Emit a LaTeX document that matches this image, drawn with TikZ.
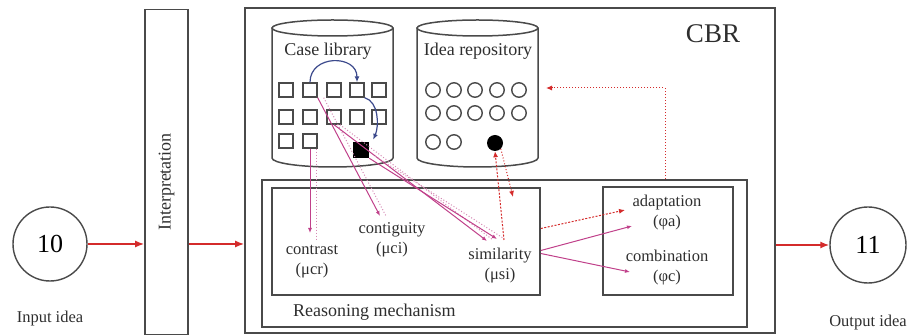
\documentclass[tikz,border=0pt]{standalone}
\usepackage{fontspec}
\setmainfont{Liberation Serif}
\usetikzlibrary{arrows.meta,calc}

\definecolor{frame}{HTML}{4A4A4A}
\definecolor{flow}{HTML}{D42B2B}
\definecolor{link}{HTML}{C0408A}
\definecolor{linklt}{HTML}{D58AB4}
\definecolor{navy}{HTML}{3C4A8C}
\definecolor{ink}{HTML}{2E2E2E}

\begin{document}
\begin{tikzpicture}[x=1pt,y=-1pt,
  box/.style={draw=frame, line width=1.7pt, inner sep=0pt},
  cyl/.style={draw=frame, line width=1.5pt},
  sq/.style={draw=frame, line width=1.4pt, minimum size=14pt, inner sep=0pt},
  sqfull/.style={fill=black, minimum size=16pt, inner sep=0pt},
  rnd/.style={circle, draw=frame, line width=1.4pt, minimum size=14.5pt, inner sep=0pt},
  rndfull/.style={circle, fill=black, minimum size=16pt, inner sep=0pt},
  ball/.style={circle, draw=frame, line width=1.4pt, inner sep=0pt},
  txt/.style={text=ink, font=\fontsize{18}{21}\selectfont, inner sep=0pt},
  lbl/.style={text=ink, font=\fontsize{16.5}{20}\selectfont, align=center, inner sep=1pt},
  flowarrow/.style={draw=flow, line width=1.5pt, -{Latex[length=9pt,width=7pt]}},
  lnk/.style={draw=link, line width=1pt, -{Latex[length=5pt,width=4pt]}},
  lnkdot/.style={draw=linklt, line width=1pt, dotted},
  redlnk/.style={draw=flow, line width=1pt, dash pattern=on 2pt off 1.5pt, -{Latex[length=6pt,width=5pt]}},
  blu/.style={draw=navy, line width=1.2pt, -{Latex[length=6pt,width=5pt]}}
]
\useasboundingbox (0,0) rectangle (916,336);

% ---------- input, interpretation, output ----------
\node[ball, minimum size=74pt] (in) at (50,244) {\fontsize{26}{30}\selectfont 10};
\node[txt, font=\fontsize{16.5}{20}\selectfont] (inlbl) at (50,319) {Input idea};

\node[box, minimum width=43pt, minimum height=325pt] (interp) at (166.5,172) {};
\node[txt, rotate=90] (interplbl) at (166.5,182) {Interpretation};

\node[ball, minimum size=76pt] (out) at (868,245) {\fontsize{26}{30}\selectfont 11};
\node[txt, font=\fontsize{16.5}{20}\selectfont] (outlbl) at (868,323) {Output idea};

% ---------- CBR frame ----------
\node[box, minimum width=530pt, minimum height=325pt] (cbr) at (510,170.5) {};
\node[txt, font=\fontsize{27}{31}\selectfont] (cbrlbl) at (713,34) {CBR};

\draw[flowarrow] (in.east) -- (interp.west |- in.east);
\draw[flowarrow] (interp.east |- in.east) -- (cbr.west |- in.east);
\draw[flowarrow] (cbr.east |- out.west) -- (out.west);

% ---------- case library cylinder ----------
\draw[cyl] (272,28) -- (272,158) arc[start angle=180, end angle=360, x radius=60.5pt, y radius=9pt] -- (393,28);
\draw[cyl] (332.5,28) ellipse[x radius=60.5pt, y radius=8pt];
\node[txt] (caselbl) at (328,51) {Case library};

\foreach \c/\x in {1/286,2/310,3/334,4/357,5/379}{
  \node[sq] (s1\c) at (\x,90) {};
  \node[sq] (s2\c) at (\x,117) {};
}
\node[sq] (s31) at (286,141) {};
\node[sq] (s32) at (310,141) {};
\node[sqfull] (sb) at (361,150) {};

% ---------- idea repository cylinder ----------
\draw[cyl] (417,28) -- (417,158) arc[start angle=180, end angle=360, x radius=60.5pt, y radius=9pt] -- (538,28);
\draw[cyl] (477.5,28) ellipse[x radius=60.5pt, y radius=8pt];
\node[txt] (idealbl) at (478,51) {Idea repository};

\foreach \c/\x in {1/433,2/454,3/475,4/497,5/519}{
  \node[rnd] (c1\c) at (\x,90) {};
  \node[rnd] (c2\c) at (\x,113) {};
}
\node[rnd] (c31) at (433,142) {};
\node[rnd] (c32) at (454,142) {};
\node[rndfull] (cb) at (495,143) {};
\coordinate (repoR) at (546,88);

% ---------- reasoning mechanism ----------
\node[box, minimum width=485pt, minimum height=147pt] (mech) at (504.5,253.5) {};
\node[txt, anchor=west] (mechlbl) at (293,312) {Reasoning mechanism};
\node[box, minimum width=268pt, minimum height=107pt] (inL) at (406,241.5) {};
\node[box, minimum width=130pt, minimum height=108pt] (inR) at (668,241) {};

\node[lbl] (ctr) at (312,262) {contrast\\(μcr)};
\node[lbl] (cgy) at (392,240) {contiguity\\(μci)};
\node[lbl] (sim) at (500,266) {similarity\\(μsi)};
\node[lbl] (adp) at (667,213) {adaptation\\(φa)};
\node[lbl] (cmb) at (667,268) {combination\\(φc)};

% ---------- retrieval links ----------
\draw[lnk] (s32.south) -- (310,233);
\draw[lnkdot] ($(s32.south)+(6,0)$) -- (316,240);

\draw[lnk] (s12.south east) -- (380,216);
\draw[lnkdot] ($(s12.south east)+(6,0)$) -- (386,216);

\draw[lnk] (s23.south) -- (487,241);
\draw[lnkdot] ($(s23.south)+(6,0)$) -- (493,240);

\draw[lnk] (sb.south east) -- (497,239);
\draw[lnkdot] ($(sb.south east)+(6,-2)$) -- (503,238);

% similar case to the stored idea and back
\draw[redlnk] (504,240) -- (cb.south);
\draw[redlnk, dotted] (cb.south east) -- (513,197);

% similarity towards adaptation / combination
\draw[redlnk] ($(inL.east)+(0,-13)$) -- (625,210);
\draw[lnk] ($(inL.east)+(0,9)$) -- (632,226);
\draw[lnk] ($(inL.east)+(0,12)$) -- (630,272);

% new idea stored back into the repository
\draw[redlnk, dotted] (mech.north -| 665,0) -- (665,88) -- (repoR);

% ---------- case navigation inside the library ----------
\draw[blu] (s12.north) .. controls +(0,-28) and +(0,-28) .. (s14.north);
\draw[blu] (s14.south east) .. controls +(14,4) and +(6,-14) .. ($(sb.north east)+(4,-2)$);
\end{tikzpicture}
\end{document}
